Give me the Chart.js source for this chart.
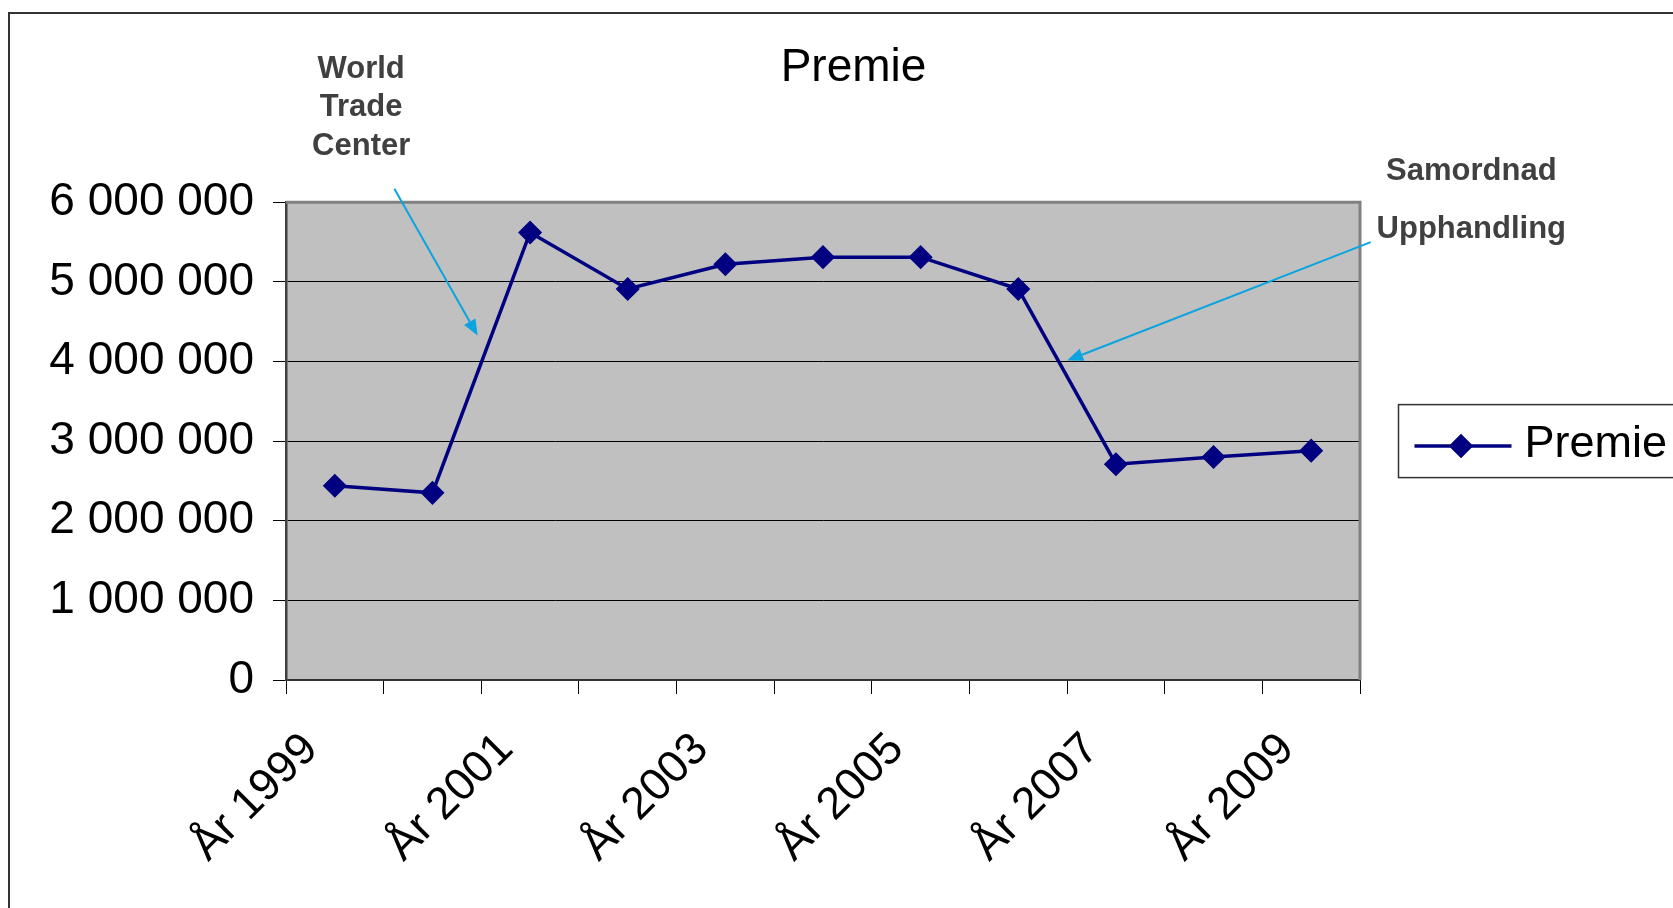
<!DOCTYPE html>
<html>
<head>
<meta charset="utf-8">
<script src="https://cdn.jsdelivr.net/npm/chart.js@4"></script>
<style>
  html, body { margin: 0; padding: 0; background: #fff; }
  #wrap { width: 1673px; height: 908px; position: relative; }
</style>
</head>
<body>
<div id="wrap"><canvas id="c"></canvas></div>
<script>
// ---- data ----
const categories = ['År 1999','År 2000','År 2001','År 2002','År 2003','År 2004','År 2005','År 2006','År 2007','År 2008','År 2009'];
const premie = [2440000, 2350000, 5620000, 4910000, 5220000, 5310000, 5310000, 4910000, 2710000, 2800000, 2880000];
const yTickValues = [0, 1000000, 2000000, 3000000, 4000000, 5000000, 6000000];
const shownXLabels = ['År 1999','År 2001','År 2003','År 2005','År 2007','År 2009'];
const seriesName = 'Premie';
const noteWTC = ['World', 'Trade', 'Center'];
const noteSU = ['Samordnad', 'Upphandling'];

const FONT = "'Liberation Sans', Arial, sans-serif";
const NAVY = '#000080';

function fmt(v) {
  return String(Math.round(v)).replace(/\B(?=(\d{3})+(?!\d))/g, ' ');
}

// frame, plot background and plot border
const framePlugin = {
  id: 'frame',
  beforeDraw(chart) {
    const { ctx, chartArea: a } = chart;
    ctx.save();
    ctx.fillStyle = '#fff';
    ctx.fillRect(0, 0, chart.width, chart.height);
    ctx.strokeStyle = '#333';
    ctx.lineWidth = 2;
    ctx.beginPath();
    ctx.moveTo(9, chart.height + 2);
    ctx.lineTo(9, 13);
    ctx.lineTo(chart.width + 2, 13);
    ctx.stroke();
    ctx.fillStyle = '#C0C0C0';
    ctx.fillRect(a.left, a.top, a.right - a.left, a.bottom - a.top);
    ctx.restore();
  },
  beforeDatasetsDraw(chart) {
    const { ctx, chartArea: a } = chart;
    ctx.save();
    ctx.strokeStyle = '#808080';
    ctx.lineWidth = 3;
    ctx.beginPath();
    ctx.moveTo(a.left, a.top);
    ctx.lineTo(a.right, a.top);
    ctx.lineTo(a.right, a.bottom);
    ctx.stroke();
    ctx.restore();
  }
};

// annotations placed in data units (x = category index, y = value)
const notePlugin = {
  id: 'notes',
  afterDatasetsDraw(chart, args, opts) {
    const { ctx } = chart;
    const xs = chart.scales.x, ys = chart.scales.y;
    ctx.save();
    ctx.font = 'bold 31px ' + FONT;
    ctx.fillStyle = '#404040';
    ctx.textAlign = 'center';
    ctx.textBaseline = 'middle';
    opts.texts.forEach(t => {
      t.lines.forEach((line, i) => {
        ctx.fillText(line, xs.getPixelForValue(t.x), ys.getPixelForValue(t.y[i]));
      });
    });
    ctx.strokeStyle = '#0BA3E0';
    ctx.fillStyle = '#0BA3E0';
    ctx.lineWidth = 2;
    opts.arrows.forEach(ar => {
      const x1 = xs.getPixelForValue(ar.from[0]), y1 = ys.getPixelForValue(ar.from[1]);
      const x2 = xs.getPixelForValue(ar.to[0]), y2 = ys.getPixelForValue(ar.to[1]);
      const ang = Math.atan2(y2 - y1, x2 - x1);
      const L = 16, W = 6.5;
      const bx = x2 - L * Math.cos(ang), by = y2 - L * Math.sin(ang);
      ctx.beginPath();
      ctx.moveTo(x1, y1);
      ctx.lineTo(bx, by);
      ctx.stroke();
      ctx.beginPath();
      ctx.moveTo(x2, y2);
      ctx.lineTo(bx + W * Math.sin(ang), by - W * Math.cos(ang));
      ctx.lineTo(bx - W * Math.sin(ang), by + W * Math.cos(ang));
      ctx.closePath();
      ctx.fill();
    });
    ctx.restore();
  }
};

// boxed legend with line + diamond, right of the plot area
const legendPlugin = {
  id: 'boxLegend',
  afterDraw(chart) {
    const { ctx, chartArea: a } = chart;
    const left = a.right + 38.5;
    const cy = (a.top + a.bottom) / 2;
    const top = cy - 36.5, h = 73;
    ctx.save();
    ctx.fillStyle = '#fff';
    ctx.fillRect(left, top, chart.width - left + 5, h);
    ctx.strokeStyle = '#333';
    ctx.lineWidth = 1.5;
    ctx.strokeRect(left, top, chart.width - left + 5, h);
    const ly = cy + 5;
    ctx.strokeStyle = NAVY;
    ctx.lineWidth = 3.5;
    ctx.beginPath();
    ctx.moveTo(left + 16, ly);
    ctx.lineTo(left + 113, ly);
    ctx.stroke();
    ctx.fillStyle = NAVY;
    Chart.helpers.drawPoint(ctx, { pointStyle: 'rectRot', radius: 12, borderWidth: 0 }, left + 62.5, ly);
    ctx.fill();
    ctx.fillStyle = '#000';
    ctx.font = '45px ' + FONT;
    ctx.textAlign = 'left';
    ctx.textBaseline = 'middle';
    ctx.fillText(seriesName, left + 126, cy + 3);
    ctx.restore();
  }
};

new Chart(document.getElementById('c'), {
  type: 'line',
  data: {
    labels: categories,
    datasets: [{
      label: seriesName,
      data: premie,
      borderColor: NAVY,
      backgroundColor: NAVY,
      borderWidth: 3.5,
      tension: 0,
      pointStyle: 'rectRot',
      pointRadius: 11,
      pointBorderWidth: 1.5,
      pointBackgroundColor: NAVY,
      pointBorderColor: NAVY,
      clip: false
    }]
  },
  options: {
    responsive: true,
    maintainAspectRatio: false,
    animation: false,
    devicePixelRatio: 1,
    layout: { padding: { left: 34, top: 0, right: 0, bottom: 0 } },
    plugins: {
      legend: { display: false },
      tooltip: { enabled: false },
      title: {
        display: true,
        text: 'Premie',
        color: '#000',
        font: { size: 46, family: FONT, weight: 'normal' },
        padding: { top: 41, bottom: 106 }
      },
      notes: {
        texts: [
          { lines: noteWTC, x: 0.27, y: [7671000, 7194000, 6704000] },
          { lines: noteSU, x: 11.64, y: [6380000, 5660000] }
        ],
        arrows: [
          { from: [0.61, 6168000], to: [1.463, 4325000] },
          { from: [10.61, 5498000], to: [7.5, 4012000] }
        ]
      }
    },
    scales: {
      x: {
        type: 'category',
        offset: true,
        grid: {
          display: true,
          offset: true,
          drawOnChartArea: false,
          drawTicks: true,
          tickLength: 14,
          color: '#000',
          lineWidth: 1
        },
        border: { display: true, color: '#333', width: 2 },
        ticks: {
          autoSkip: false,
          minRotation: 45,
          maxRotation: 45,
          padding: 29,
          labelOffset: -24,
          color: '#000',
          font: { size: 45, family: FONT },
          callback: function (val, idx) {
            const lab = categories[idx];
            return shownXLabels.includes(lab) ? lab : '';
          }
        },
        afterFit(scale) { scale.height = 228; }
      },
      y: {
        type: 'linear',
        min: 0,
        max: 6000000,
        afterBuildTicks(scale) { scale.ticks = yTickValues.map(v => ({ value: v })); },
        grid: {
          color: '#000',
          lineWidth: 1,
          drawTicks: true,
          tickLength: 13
        },
        border: { display: true, color: '#404040', width: 2.5 },
        ticks: {
          padding: 19,
          color: '#000',
          font: { size: 46, family: FONT },
          callback: v => fmt(v)
        },
        afterFit(scale) { scale.width = 252; }
      },
      spacer: {
        type: 'linear',
        position: 'right',
        display: true,
        grid: { display: false, drawOnChartArea: false },
        border: { display: false },
        ticks: { display: false },
        afterFit(scale) { scale.width = 313; }
      }
    }
  },
  plugins: [framePlugin, notePlugin, legendPlugin]
});
</script>
</body>
</html>
